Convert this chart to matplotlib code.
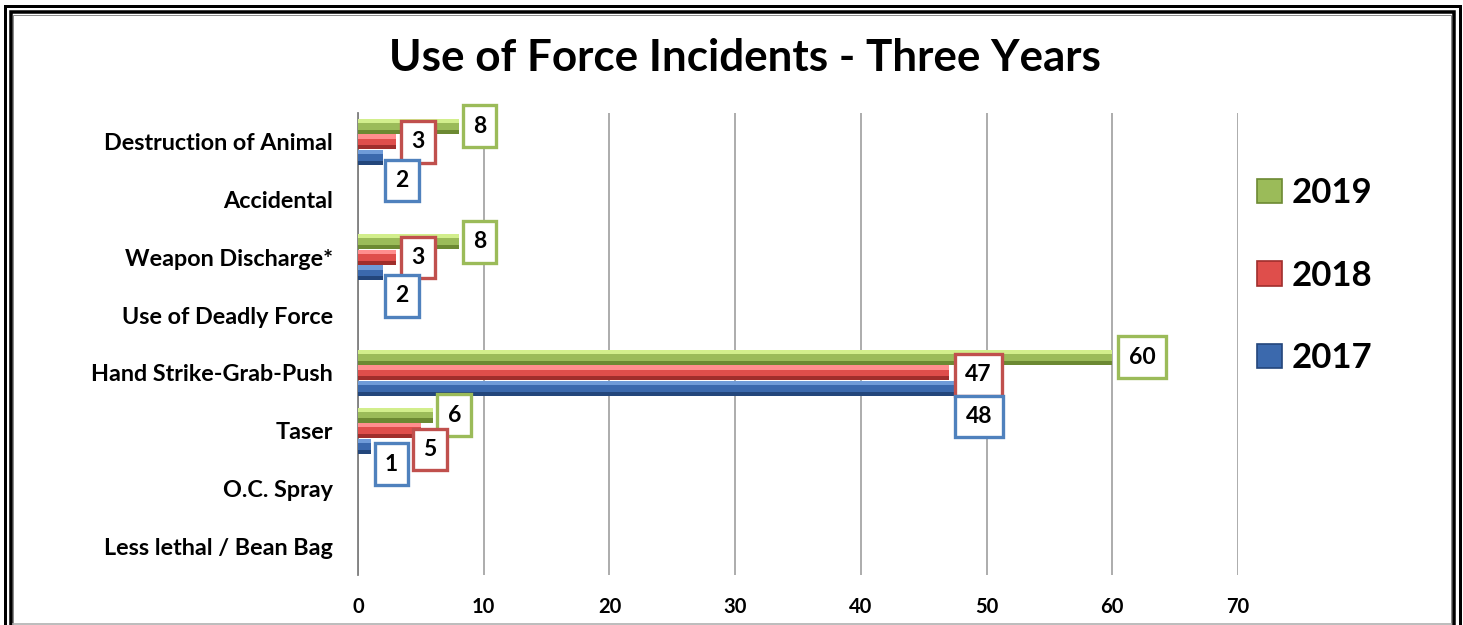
import matplotlib
matplotlib.use("Agg")
import matplotlib.pyplot as plt
from matplotlib.patches import Rectangle

plt.rcParams["font.family"] = ["Lato", "DejaVu Sans"]
plt.rcParams["font.weight"] = "bold"

# datos del grafico
categories = ["Destruction of Animal", "Accidental", "Weapon Discharge*",
              "Use of Deadly Force", "Hand Strike-Grab-Push", "Taser",
              "O.C. Spray", "Less lethal / Bean Bag"]
years = ["2019", "2018", "2017"]
v2019 = [8, 0, 8, 0, 60, 6, 0, 0]
v2018 = [3, 0, 3, 0, 47, 5, 0, 0]
v2017 = [2, 0, 2, 0, 48, 1, 0, 0]
x_ticks = [0, 10, 20, 30, 40, 50, 60, 70]

# estilo: (claro, medio, oscuro, borde de etiqueta)
styles = {
    "2019": ("#D2EE8C", "#9BBB59", "#6C8932", "#9BBB59"),
    "2018": ("#FF8E8E", "#DF4E4B", "#A02E2C", "#C0504D"),
    "2017": ("#6F9BD8", "#3B69AD", "#23467B", "#4F81BD"),
}
bar_offset = {"2019": -0.27, "2018": 0.0, "2017": 0.27}
bar_h = 0.26

# desplazamiento de las etiquetas (px): borde izq. de la caja respecto al fin de barra, y hacia abajo
label_nudge = {
    ("Destruction of Animal", "2019"): (4, 0), ("Destruction of Animal", "2018"): (5, 0),
    ("Destruction of Animal", "2017"): (2, 23),
    ("Weapon Discharge*", "2019"): (4, 0), ("Weapon Discharge*", "2018"): (5, 0),
    ("Weapon Discharge*", "2017"): (2, 23),
    ("Hand Strike-Grab-Push", "2019"): (6, 0), ("Hand Strike-Grab-Push", "2018"): (6, 2),
    ("Hand Strike-Grab-Push", "2017"): (-6, 28),
    ("Taser", "2019"): (4, 0), ("Taser", "2018"): (-8, 19), ("Taser", "2017"): (4, 18),
}

W, H = 1463, 625
fig = plt.figure(figsize=(W / 100, H / 100), dpi=100)
ax = fig.add_axes([358 / W, 1 - 575 / H, (1238 - 358) / W, (575 - 113) / H])

series = {"2019": v2019, "2018": v2018, "2017": v2017}
pad = 0.45
fs_lab = 16.5
for yr in years:
    light, mid, dark, edge = styles[yr]
    ys = [i + bar_offset[yr] for i in range(len(categories))]
    vals = series[yr]
    ax.barh(ys, vals, height=bar_h, color=mid, zorder=3)
    ax.barh([y - bar_h * 0.36 for y in ys], vals, height=bar_h * 0.28, color=light, zorder=3)
    ax.barh([y + bar_h * 0.36 for y in ys], vals, height=bar_h * 0.28, color=dark, zorder=3)
    for cat, y, v in zip(categories, ys, vals):
        if v == 0:
            continue
        dx, dy = label_nudge.get((cat, yr), (4, 0))
        ax.annotate(str(v), xy=(v, y), xytext=(dx * 0.72 + pad * fs_lab, -dy * 0.72),
                    textcoords="offset points", ha="left", va="center",
                    fontsize=fs_lab, fontweight="bold", color="black", zorder=6,
                    bbox=dict(boxstyle=f"square,pad={pad}", fc="white", ec=edge, lw=2.4))

ax.set_xlim(0, 70)
ax.set_ylim(len(categories) - 0.5, -0.5)
ax.set_xticks(x_ticks)
ax.set_yticks(range(len(categories)))
ax.set_yticklabels(categories, fontsize=16.8, fontweight="bold")
ax.set_xticklabels([str(t) for t in x_ticks], fontsize=14.5, fontweight="bold")
ax.tick_params(axis="y", length=0, pad=18)
ax.tick_params(axis="x", length=0, pad=16)
ax.grid(axis="x", color="#A6A6A6", lw=1.3, zorder=0)
ax.set_axisbelow(True)
for s in ["top", "right", "bottom"]:
    ax.spines[s].set_visible(False)
ax.spines["left"].set_color("#7F7F7F")
ax.spines["left"].set_linewidth(1.3)

# leyenda
handles = [Rectangle((0, 0), 1, 1, fc=styles[yr][1], ec=styles[yr][2], lw=1.2) for yr in years]
fig.legend(handles, years, loc="upper left", bbox_to_anchor=(1226 / W, 1 - 146 / H),
           frameon=False, prop={"size": 25, "weight": "bold"},
           handlelength=0.7, handleheight=0.7, handletextpad=0.28, labelspacing=1.45)

fig.text(745 / W, 1 - 58 / H, "Use of Force Incidents - Three Years",
         ha="center", va="center", fontsize=31.7, fontweight="bold")

# marco doble
def frame(x0, y0, x1, y1, lw_px, color):
    fig.add_artist(Rectangle((x0 / W, 1 - y1 / H), (x1 - x0) / W, (y1 - y0) / H,
                             transform=fig.transFigure, fill=False, ec=color,
                             lw=lw_px * 0.72, clip_on=False))

frame(4.5, 5.5, 1459.5, 700, 3, "black")
frame(10.5, 12, 1453.5, 700, 3.5, "black")
frame(13, 14.8, 1451, 700, 1, "#8C8C8C")
fig.add_artist(plt.Line2D([13 / W, 1451 / W], [1 - 623.5 / H] * 2, transform=fig.transFigure,
                          color="#B0B0B0", lw=1.2))

fig.savefig("out.png", dpi=100)
